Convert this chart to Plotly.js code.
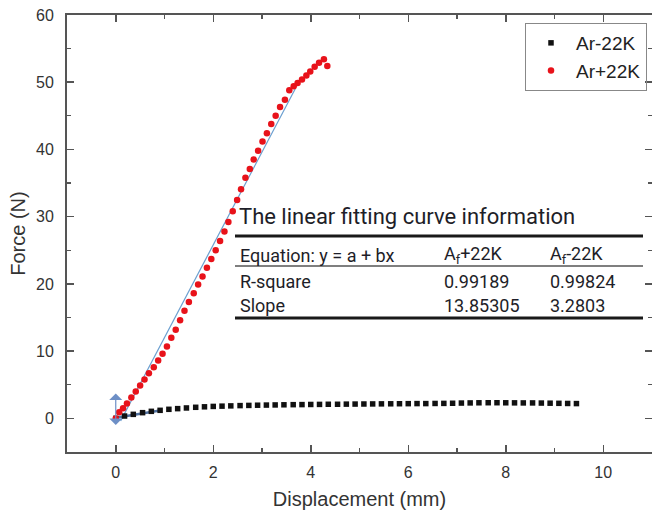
<!DOCTYPE html>
<html>
<head>
<meta charset="utf-8">
<script src="https://cdn.plot.ly/plotly-3.0.1.min.js"></script>
<style>
  html, body { margin: 0; padding: 0; background: #ffffff; }
  #chart { width: 652px; height: 513px; }
</style>
</head>
<body>
<div id="chart"></div>
<script>
// ---------- data ----------
const seriesNames = ["Ar-22K", "Ar+22K"];

const minusX = [0, 0.18, 0.36, 0.55, 0.73, 0.91, 1.09, 1.27, 1.45, 1.64, 1.82, 2.00, 2.18, 2.36, 2.55, 2.73, 2.91, 3.09, 3.27, 3.45, 3.64, 3.82, 4.00, 4.18, 4.36, 4.55, 4.73, 4.91, 5.09, 5.27, 5.45, 5.64, 5.82, 6.00, 6.18, 6.36, 6.55, 6.73, 6.91, 7.09, 7.27, 7.45, 7.64, 7.82, 8.00, 8.18, 8.36, 8.55, 8.73, 8.91, 9.09, 9.27, 9.45];
const minusY = [0.0, 0.35, 0.6, 0.85, 1.05, 1.2, 1.35, 1.45, 1.55, 1.65, 1.72, 1.78, 1.82, 1.86, 1.9, 1.93, 1.96, 1.98, 2.0, 2.02, 2.04, 2.05, 2.07, 2.08, 2.1, 2.1, 2.12, 2.13, 2.14, 2.15, 2.16, 2.17, 2.18, 2.19, 2.2, 2.2, 2.22, 2.23, 2.25, 2.28, 2.3, 2.32, 2.33, 2.33, 2.32, 2.31, 2.3, 2.3, 2.28, 2.26, 2.24, 2.22, 2.2];

const plusX = [0.00, 0.07, 0.15, 0.23, 0.32, 0.41, 0.50, 0.59, 0.68, 0.78, 0.87, 0.96, 1.05, 1.14, 1.23, 1.32, 1.41, 1.50, 1.60, 1.69, 1.78, 1.87, 1.96, 2.05, 2.14, 2.23, 2.31, 2.40, 2.49, 2.57, 2.66, 2.75, 2.83, 2.92, 3.01, 3.10, 3.19, 3.28, 3.37, 3.47, 3.56, 3.65, 3.73, 3.82, 3.91, 3.99, 4.08, 4.17, 4.27, 4.34];
const plusY = [0.0, 0.9, 1.5, 2.2, 3.1, 4.0, 4.9, 5.8, 6.7, 7.6, 8.6, 9.6, 10.7, 12.0, 13.2, 14.6, 16.0, 17.3, 18.6, 19.9, 21.1, 22.4, 23.7, 25.0, 26.4, 27.8, 29.2, 30.8, 32.5, 34.1, 35.8, 37.1, 38.5, 39.8, 41.2, 42.4, 43.8, 45.0, 46.3, 47.4, 48.8, 49.4, 49.9, 50.4, 51.0, 51.6, 52.3, 52.9, 53.4, 52.4];

// linear fit segments
const fitPlusX = [0.10, 3.68];
const fitPlusY = [-0.4, 49.0];
const fitMinusX = [0.0, 0.88];
const fitMinusY = [0.1, 1.15];

// marker arrow at origin
const arrowX = [0, 0];
const arrowY = [-1.2, 3.7];

// table contents
const tableTitle = "The linear fitting curve information";
const tableHeader = ["Equation: y = a + bx", "A<sub>f</sub>+22K", "A<sub>f</sub>-22K"];
const tableRowLabels = ["R-square", "Slope"];
const tablePlus = ["0.99189", "13.85305"];
const tableMinus = ["0.99824", "3.2803"];

const xTicks = [0, 2, 4, 6, 8, 10];
const yTicks = [0, 10, 20, 30, 40, 50, 60];

// ---------- layout helpers (pixel -> paper) ----------
const M = {l: 67, r: 0, t: 15, b: 61};
const W = 652, H = 513;
const PW = W - M.l - M.r, PH = H - M.t - M.b;
const px = v => (v - M.l) / PW;
const py = v => (H - M.b - v) / PH;

const traces = [
  {x: fitPlusX, y: fitPlusY, mode: "lines", line: {color: "#6b9fd0", width: 1.2}, showlegend: false, hoverinfo: "skip"},
  {x: fitMinusX, y: fitMinusY, mode: "lines", line: {color: "#50709e", width: 2.5}, showlegend: false, hoverinfo: "skip"},
  {x: minusX, y: minusY, name: seriesNames[0], mode: "markers", type: "scatter",
   marker: {symbol: "square", size: 5.5, color: "#111111"}},
  {x: plusX, y: plusY, name: seriesNames[1], mode: "markers", type: "scatter",
   marker: {symbol: "circle", size: 6.5, color: "#e8121a"}}
];

const tf = "Roboto, 'Liberation Sans', sans-serif";
const tcol = "#1e1e28";
const ann = [];
function txt(t, xp, yp, size) {
  ann.push({text: t, x: px(xp), y: py(yp), xref: "paper", yref: "paper",
    xanchor: "left", yanchor: "middle", showarrow: false,
    font: {family: tf, size: size, color: tcol}});
}
txt(tableTitle, 237, 217, 22);
const colX = [238, 442, 548];
tableHeader.forEach((t, i) => txt(t, colX[i], 255, 18));
tableRowLabels.forEach((t, i) => {
  const yy = [282, 305][i];
  txt(t, colX[0], yy, 18);
  txt(tablePlus[i], colX[1], yy, 18);
  txt(tableMinus[i], colX[2], yy, 18);
});
// arrow
ann.push({x: arrowX[1], y: arrowY[1], ax: arrowX[0], ay: arrowY[0], xref: "x", yref: "y",
  axref: "x", ayref: "y", text: "", showarrow: true, arrowside: "end+start",
  arrowhead: 1, arrowsize: 1.8, arrowwidth: 1.2, arrowcolor: "#6d8fc6"});

const shapes = [
  {type: "line", xref: "paper", yref: "paper", x0: px(235), x1: px(643), y0: py(236), y1: py(236), line: {color: "#1a1a1a", width: 3}},
  {type: "line", xref: "paper", yref: "paper", x0: px(235), x1: px(643), y0: py(266), y1: py(266), line: {color: "#555555", width: 1.5}},
  {type: "line", xref: "paper", yref: "paper", x0: px(235), x1: px(643), y0: py(318), y1: py(318), line: {color: "#1a1a1a", width: 3}}
];

const axFont = {family: "'Liberation Sans', Arial, sans-serif", size: 16, color: "#333333"};
const titleFont = {family: "'Liberation Sans', Arial, sans-serif", size: 20, color: "#333333"};
const layout = {
  width: W, height: H,
  margin: M,
  paper_bgcolor: "#ffffff", plot_bgcolor: "#ffffff",
  showlegend: true,
  legend: {x: px(647), y: py(23), xanchor: "right", yanchor: "top",
    bordercolor: "#888888", borderwidth: 1, bgcolor: "rgba(255,255,255,0)",
    font: {family: "'Liberation Sans', Arial, sans-serif", size: 19, color: "#222222"},
    itemwidth: 40, tracegroupgap: 0},
  xaxis: {range: [-1, 11], tickvals: xTicks, ticktext: xTicks.map(String),
    showgrid: false, zeroline: false, showline: true, linecolor: "#555555", linewidth: 2,
    mirror: "ticks", ticks: "inside", ticklen: 7, tickwidth: 1.5, tickcolor: "#555555",
    minor: {ticks: "inside", dtick: 1, tick0: 0, ticklen: 4, tickwidth: 1.2, tickcolor: "#555555", showgrid: false},
    tickfont: axFont, ticklabelstandoff: 5,
    title: {text: "Displacement (mm)", font: titleFont, standoff: 12}},
  yaxis: {range: [-5, 60], tickvals: yTicks, ticktext: yTicks.map(String),
    showgrid: false, zeroline: false, showline: true, linecolor: "#555555", linewidth: 2,
    mirror: "ticks", ticks: "inside", ticklen: 7, tickwidth: 1.5, tickcolor: "#555555",
    minor: {ticks: "inside", dtick: 5, tick0: 0, ticklen: 4, tickwidth: 1.2, tickcolor: "#555555", showgrid: false},
    tickfont: axFont, ticklabelstandoff: 8,
    title: {text: "Force (N)", font: titleFont, standoff: 5}},
  annotations: ann,
  shapes: shapes
};

Plotly.newPlot("chart", traces, layout, {displayModeBar: false, staticPlot: true});
</script>
</body>
</html>
